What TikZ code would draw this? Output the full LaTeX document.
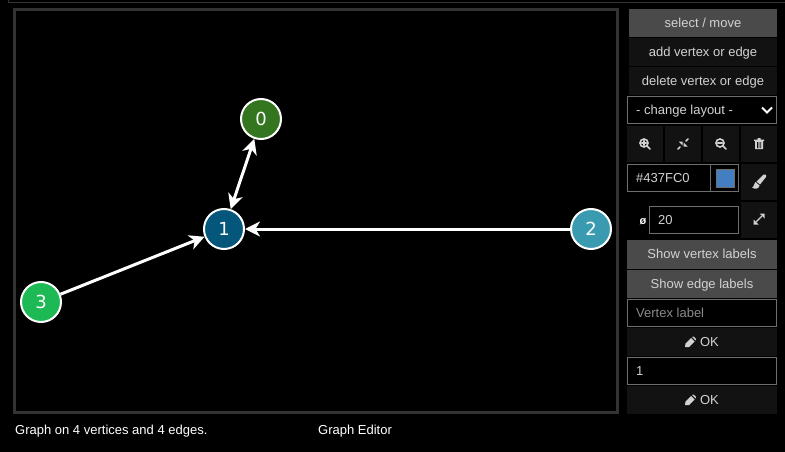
\documentclass[tikz,border=0pt]{standalone}
\usepackage{fontspec}
\setmainfont{Liberation Sans}
\newfontfamily\vertexfont{DejaVu Sans}
\usetikzlibrary{arrows.meta,positioning}
\definecolor{framegray}{HTML}{333333}
\definecolor{btndark}{HTML}{121212}
\definecolor{btnlight}{HTML}{4A4A4A}
\definecolor{btntext}{HTML}{D2D2D2}
\definecolor{boxgray}{HTML}{6E6E6E}
\definecolor{hintgray}{HTML}{8A8A8A}
\definecolor{swatch}{HTML}{437FC0}
\definecolor{vzero}{HTML}{33761F}
\definecolor{vone}{HTML}{04567A}
\definecolor{vtwo}{HTML}{3A9BB0}
\definecolor{vthree}{HTML}{1DB954}
\tikzset{
  vertex/.style={circle, draw=white, line width=2pt, minimum size=40pt, inner sep=0pt,
    text=white, font=\vertexfont\fontsize{18}{20}\selectfont},
  edge/.style={draw=white, line width=3pt, -{Stealth[length=15pt,width=15pt,inset=4.5pt]}},
  bothedge/.style={edge, {Stealth[length=15pt,width=15pt,inset=4.5pt]}-{Stealth[length=15pt,width=15pt,inset=4.5pt]}},
  uitext/.style={text=btntext, font=\fontsize{13}{15}\selectfont, inner sep=0pt, text height=9pt, text depth=0pt},
  btn/.style={uitext, fill=btndark, minimum height=28pt, minimum width=148pt},
  wide/.style={btn, minimum width=150pt},
  lit/.style={wide, fill=btnlight},
  iconbtn/.style={btn, minimum width=36pt, minimum height=36pt},
  inputbox/.style={draw=boxgray, line width=1pt, fill=black, minimum height=27pt, inner sep=0pt},
  glyph/.style={draw=btntext, line width=1.6pt, line cap=round},
  caption/.style={text=white, font=\fontsize{13}{15}\selectfont, inner sep=0pt, anchor=west, text height=9pt, text depth=0pt}
}
\begin{document}
\begin{tikzpicture}[x=1pt,y=-1pt]
    \useasboundingbox[fill=black] (0,0) rectangle (785,452);
    % top rule
    \draw[framegray, line width=1pt] (8.5,0) -- (8.5,2.5) -- (785,2.5);
    % graph canvas
    \draw[framegray, line width=3pt, fill=black] (14.5,9.5) rectangle (617.5,412.5);
    \node[vertex, fill=vzero] (v0) at (261,119) {\raisebox{1pt}{0}};
    \node[vertex, fill=vone] (v1) at (224,229) {\raisebox{1pt}{1}};
    \node[vertex, fill=vtwo] (v2) at (591,229) {\raisebox{1pt}{2}};
    \node[vertex, fill=vthree] (v3) at (41,302) {\raisebox{1pt}{3}};
    \draw[bothedge] (v0) -- (v1);
    \draw[edge] (v2) -- (v1);
    \draw[edge] (v3) -- (v1);
    % captions
    \node[caption] (status) at (15,429.5) {Graph on 4 vertices and 4 edges.};
    \node[caption] (title) at (318,429.5) {Graph Editor};
    % mode buttons
    \node[btn, fill=btnlight] (selectbtn) at (703,23) {select / move};
    \node[btn] (addbtn) at (703,52) {add vertex or edge};
    \node[btn] (delbtn) at (703,81) {delete vertex or edge};
    \node[inputbox, minimum width=149pt] (layoutbox) at (702,110) {};
    \node[uitext, right=9pt of layoutbox.west] (layouttext) {- change layout -};
    \draw[white, line width=1.8pt] (762,107.5) -- (767,112.5) -- (772,107.5);
    % icon buttons
    \node[iconbtn] (zoomin) at (645,144) {};
    \node[iconbtn] (center) at (683,144) {};
    \node[iconbtn] (zoomout) at (721,144) {};
    \node[iconbtn] (trash) at (759,144) {};
    \draw[glyph] (644,143) circle (4pt) (647,146) -- (650,149) (642,143) -- (646,143) (644,141) -- (644,145);
    \draw[glyph] (720,143) circle (4pt) (723,146) -- (726,149) (718,143) -- (722,143);
    \draw[glyph] (678,149) -- (680,147) (686,141) -- (688,139);
    \fill[btntext] (682.5,145.5) -- (682.5,141.5) -- (678.5,141.5) -- cycle (683.5,142.5) -- (683.5,146.5) -- (687.5,146.5) -- cycle;
    \fill[btntext] (755,141) rectangle (763,149) (754,139.5) rectangle (764,141) (757.5,138) rectangle (760.5,140);
    \fill[btndark] (757,142) rectangle (757.8,148) (758.7,142) rectangle (759.4,148) (760.3,142) rectangle (761,148);
    % colour row
    \node[inputbox, minimum width=111pt, minimum height=27pt] (colorbox) at (683,178) {};
    \draw[boxgray, line width=1pt] (710.5,164.5) -- (710.5,191.5);
    \node[uitext, right=9pt of colorbox.west] (colortext) {\#437FC0};
    \node[draw=boxgray, fill=swatch, minimum size=18pt, inner sep=0pt] (swatchbox) at (725,178) {};
    \node[iconbtn] (brush) at (759,182) {};
    \fill[btntext] (763.5,174.5) .. controls (766,173.5) and (767,175.5) .. (766,177) -- (760,184.5) -- (756.5,181.5) -- cycle;
    \fill[btntext] (755.5,182) -- (759.5,185.5) .. controls (759,189) and (755,189.5) .. (752,187.5) .. controls (754.5,187) and (753.5,183) .. (755.5,182) -- cycle;
    % size row
    \node[uitext, text=white, font=\bfseries\fontsize{11}{13}\selectfont] (sizesign) at (643,220) {ø};
    \node[inputbox, minimum width=89pt] (sizebox) at (694,220) {};
    \node[uitext, right=9pt of sizebox.west] (sizetext) {20};
    \node[iconbtn] (resize) at (759,220) {};
    \draw[glyph, line width=1.4pt] (756.5,221.5) -- (761.5,216.5);
    \fill[btntext] (753.5,224.5) -- (753.5,219.5) -- (758.5,224.5) -- cycle (764.5,213.5) -- (764.5,218.5) -- (759.5,213.5) -- cycle;
    % label controls
    \node[lit] (vlabels) at (702,254) {Show vertex labels};
    \node[lit] (elabels) at (702,284) {Show edge labels};
    \draw[black!70, line width=1pt] (627,268.9) -- (777,268.9);
    \node[inputbox, minimum width=149pt] (vlabelbox) at (702,313) {};
    \node[uitext, text=hintgray, right=9pt of vlabelbox.west] (vlabeltext) {Vertex label};
    \node[wide] (okone) at (702,342) {\hspace{15pt}OK};
    \node[inputbox, minimum width=149pt] (elabelbox) at (702,371) {};
    \node[uitext, right=9pt of elabelbox.west] (elabeltext) {1};
    \node[wide] (oktwo) at (702,400) {\hspace{15pt}OK};
    \foreach \py in {342,400} {
      \fill[btntext, shift={(690.5,\py)}] (-5.5,5) -- (-5,1.5) -- (0.5,-4) -- (4,-0.5) -- (-1.5,5) -- cycle (1.5,-5) -- (3,-5.5) -- (5.5,-3) -- (5,-1.5) -- cycle;
    }
\end{tikzpicture}
\end{document}
